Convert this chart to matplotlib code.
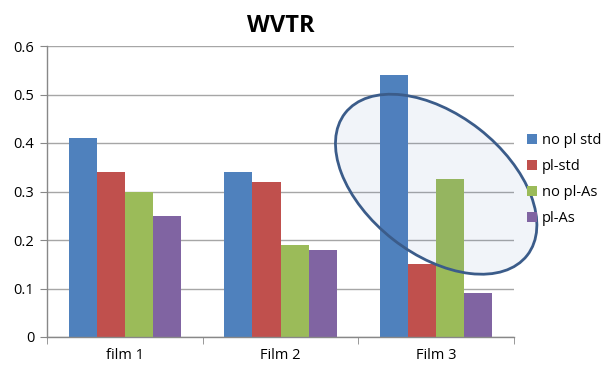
import matplotlib.pyplot as plt
import numpy as np
from matplotlib.patches import Ellipse
from matplotlib.transforms import ScaledTranslation

plt.rcParams['font.family'] = ['Open Sans', 'DejaVu Sans']

# data
films = ['film 1', 'Film 2', 'Film 3']
series = ['no pl std', 'pl-std', 'no pl-As', 'pl-As']
no_pl_std = [0.41, 0.34, 0.54]
pl_std = [0.34, 0.32, 0.15]
no_pl_as = [0.30, 0.19, 0.325]
pl_as = [0.25, 0.18, 0.09]
y_ticks = [0, 0.1, 0.2, 0.3, 0.4, 0.5, 0.6]
y_tick_labels = ['0', '0.1', '0.2', '0.3', '0.4', '0.5', '0.6']

colors = ['#4f81bd', '#c0504d', '#9bbb59', '#8064a2']

fig = plt.figure(figsize=(6.11, 3.65), dpi=100)
ax = fig.add_axes([47 / 611, 28 / 365, 467 / 611, 291 / 365])

x = np.arange(len(films))
w = 0.18
values = [no_pl_std, pl_std, no_pl_as, pl_as]
for i, (vals, name) in enumerate(zip(values, series)):
    ax.bar(x + (i - 1.5) * w, vals, width=w, color=colors[i], label=name, zorder=2)

# highlight ellipse around Film 3 (size in inches, centre in data units)
trans = fig.dpi_scale_trans + ScaledTranslation(x[2], 0.315, ax.transData)
ell = Ellipse((0, 0), 2.31, 1.40, angle=-38, transform=trans, clip_on=False,
              facecolor=(0.31, 0.45, 0.75, 0.08), edgecolor='#3b5c8a', linewidth=2.0, zorder=3)
ax.add_patch(ell)

ax.set_xlim(-0.5, 2.5)
ax.set_ylim(0, 0.6)
ax.set_yticks(y_ticks)
ax.set_yticklabels(y_tick_labels, fontsize=10.5)
ax.set_xticks(x)
ax.set_xticklabels(films, fontsize=10.5)
ax.set_xticks([-0.5, 0.5, 1.5, 2.5], minor=True)
ax.tick_params(axis='x', which='major', length=0, pad=8)
ax.tick_params(axis='x', which='minor', length=5, color='#888888')
ax.tick_params(axis='y', length=5, color='#888888', pad=4)

ax.grid(True, axis='y', color='#a6a6a6', linewidth=1, zorder=0)
ax.set_axisbelow(True)
for s in ['top', 'right']:
    ax.spines[s].set_visible(False)
for s in ['left', 'bottom']:
    ax.spines[s].set_color('#888888')
    ax.spines[s].set_linewidth(1)

ax.set_title('WVTR', fontsize=17, fontweight='bold', pad=10)

ax.legend(loc='center left', bbox_to_anchor=(1.0, 0.54), frameon=False, fontsize=10.5,
          handlelength=0.7, handleheight=0.7, handletextpad=0.3, labelspacing=0.75)

fig.savefig('out.png', dpi=100)
